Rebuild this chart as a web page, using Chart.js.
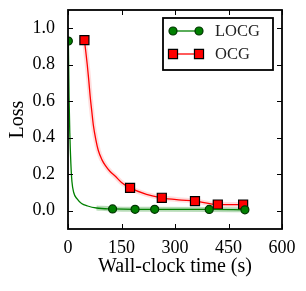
<!DOCTYPE html>
<html>
<head>
<meta charset="utf-8">
<script src="https://cdn.jsdelivr.net/npm/chart.js@4/dist/chart.umd.min.js"></script>
<style>
  html, body { margin: 0; padding: 0; background: #fff; }
  canvas { display: block; }
</style>
</head>
<body>
<canvas id="myChart" width="306" height="291"></canvas>
<script>
var xTicks = [0, 150, 300, 450, 600];
var yTicks = [0.0, 0.2, 0.4, 0.6, 0.8, 1.0];

// LOCG curve, markers only on the sampled points
var locgTime = [1, 3, 5, 8, 11, 16, 25, 38, 55, 80, 125, 188, 243, 396, 496];
var locgLoss = [0.93, 0.62, 0.43, 0.26, 0.16, 0.10, 0.066, 0.04, 0.026, 0.015, 0.01, 0.008, 0.008, 0.007, 0.005];
var locgMarks = [1, 125, 188, 243, 396, 496];

// OCG curve
var ocgTime = [46, 50, 54, 58, 62, 67, 71, 78, 85, 95, 104, 118, 132, 150, 174, 220, 263, 310, 356, 420, 491];
var ocgLoss = [0.935, 0.87, 0.80, 0.72, 0.63, 0.54, 0.47, 0.39, 0.33, 0.28, 0.25, 0.215, 0.19, 0.155, 0.125, 0.09, 0.071, 0.06, 0.053, 0.034, 0.034];
var ocgMarks = [46, 174, 263, 356, 420, 491];

var serif = "'Liberation Serif', 'Times New Roman', serif";

function puntos(xs, ys) {
    var out = [];
    for (var i = 0; i < xs.length; i++) {
        out.push({x: xs[i], y: ys[i]});
    }
    return out;
}

function radioMarca(marks, r) {
    return function(ctx) {
        var p = ctx.raw;
        return (p && marks.indexOf(p.x) >= 0) ? r : 0;
    };
}

var series = [
    {label: 'LOCG', color: '#008000', edge: '#003300', style: 'circle', radius: 4, marks: locgMarks, xs: locgTime, ys: locgLoss, band: 'rgba(0,128,0,0.28)'},
    {label: 'OCG', color: '#ff0000', edge: '#000000', style: 'rect', radius: 6.4, marks: ocgMarks, xs: ocgTime, ys: ocgLoss, band: 'rgba(255,0,0,0.13)'}
];

var datasets = [];
series.forEach(function(s) {
    // soft band behind the line
    datasets.push({
        label: s.label + '_band',
        data: puntos(s.xs, s.ys).filter(function(p) { return s.label == 'OCG' || p.x >= 80; }),
        borderColor: s.band,
        borderWidth: 5,
        pointRadius: 0,
        cubicInterpolationMode: 'monotone',
        fill: false,
        order: 2
    });
});
series.forEach(function(s) {
    datasets.push({
        label: s.label,
        data: puntos(s.xs, s.ys),
        borderColor: s.color,
        borderWidth: 1.3,
        backgroundColor: s.color,
        pointBackgroundColor: s.color,
        pointBorderColor: s.edge,
        pointBorderWidth: 1.2,
        pointStyle: s.style,
        pointRadius: radioMarca(s.marks, s.radius),
        pointHoverRadius: radioMarca(s.marks, s.radius),
        cubicInterpolationMode: 'monotone',
        fill: false,
        order: 1
    });
});

// frame, inward ticks and the legend box, matplotlib style
var marco = {
    id: 'marco',
    afterDraw: function(chart) {
        var ctx = chart.ctx;
        var a = chart.chartArea;
        var xs = chart.scales.x, ys = chart.scales.y;
        var len = 5;
        ctx.save();
        ctx.strokeStyle = '#000';
        ctx.lineWidth = 1;
        ctx.beginPath();
        xTicks.forEach(function(v) {
            var px = Math.round(xs.getPixelForValue(v)) + 0.5;
            ctx.moveTo(px, a.bottom); ctx.lineTo(px, a.bottom - len);
            ctx.moveTo(px, a.top); ctx.lineTo(px, a.top + len);
        });
        yTicks.forEach(function(v) {
            var py = Math.round(ys.getPixelForValue(v)) + 0.5;
            ctx.moveTo(a.left, py); ctx.lineTo(a.left + len, py);
            ctx.moveTo(a.right, py); ctx.lineTo(a.right - len, py);
        });
        ctx.stroke();
        ctx.lineWidth = 1.8;
        ctx.strokeRect(a.left, a.top, a.right - a.left, a.bottom - a.top);

        // legend
        var bx = 163, by = 18, bw = 110, bh = 52;
        ctx.fillStyle = '#fff';
        ctx.fillRect(bx, by, bw, bh);
        ctx.lineWidth = 1.8;
        ctx.strokeStyle = '#000';
        ctx.strokeRect(bx, by, bw, bh);
        ctx.font = '16.5px ' + serif;
        ctx.textBaseline = 'middle';
        series.forEach(function(s, i) {
            var y = by + 13 + i * 23;
            var x1 = bx + 10, x2 = bx + 36;
            ctx.strokeStyle = s.color;
            ctx.lineWidth = 1.3;
            ctx.beginPath();
            ctx.moveTo(x1, y); ctx.lineTo(x2, y);
            ctx.stroke();
            [x1, x2].forEach(function(px) {
                ctx.fillStyle = s.color;
                ctx.strokeStyle = s.edge;
                ctx.lineWidth = 1.2;
                Chart.helpers.drawPoint(ctx, {pointStyle: s.style, radius: s.radius, borderWidth: 1.2, rotation: 0}, px, y);
            });
            ctx.fillStyle = '#222';
            ctx.fillText(s.label, bx + 52, y + 1);
        });
        ctx.restore();
    }
};

var myChart = new Chart(document.getElementById('myChart'), {
    type: 'line',
    data: {datasets: datasets},
    options: {
        responsive: false,
        animation: false,
        devicePixelRatio: 1,
        layout: {padding: {top: 10, right: 24, left: 0, bottom: 0}},
        plugins: {
            legend: {display: false},
            tooltip: {enabled: false}
        },
        scales: {
            x: {
                type: 'linear',
                min: 0,
                max: 600,
                grid: {display: false, drawTicks: false},
                border: {display: false},
                afterBuildTicks: function(scale) {
                    scale.ticks = xTicks.map(function(v) { return {value: v}; });
                },
                afterFit: function(scale) {
                    scale.height = 62;
                    scale.paddingLeft = 0;
                    scale.paddingRight = 0;
                },
                ticks: {
                    color: '#000',
                    padding: 8,
                    maxRotation: 0,
                    font: {family: serif, size: 18},
                    callback: function(v) { return String(v); }
                },
                title: {
                    display: true,
                    text: 'Wall-clock time (s)',
                    color: '#000',
                    font: {family: serif, size: 20},
                    padding: {top: 0, bottom: 12}
                }
            },
            y: {
                type: 'linear',
                min: -0.1,
                max: 1.1,
                grid: {display: false, drawTicks: false},
                border: {display: false},
                afterBuildTicks: function(scale) {
                    scale.ticks = yTicks.map(function(v) { return {value: v}; });
                },
                afterFit: function(scale) {
                    scale.width = 68;
                    scale.paddingTop = 0;
                    scale.paddingBottom = 0;
                },
                ticks: {
                    color: '#000',
                    padding: 13,
                    font: {family: serif, size: 18},
                    callback: function(v) { return Number(v).toFixed(1); }
                },
                title: {
                    display: true,
                    text: 'Loss',
                    color: '#000',
                    font: {family: serif, size: 20},
                    padding: {top: 6, bottom: 0}
                }
            }
        }
    },
    plugins: [marco]
});
</script>
</body>
</html>
